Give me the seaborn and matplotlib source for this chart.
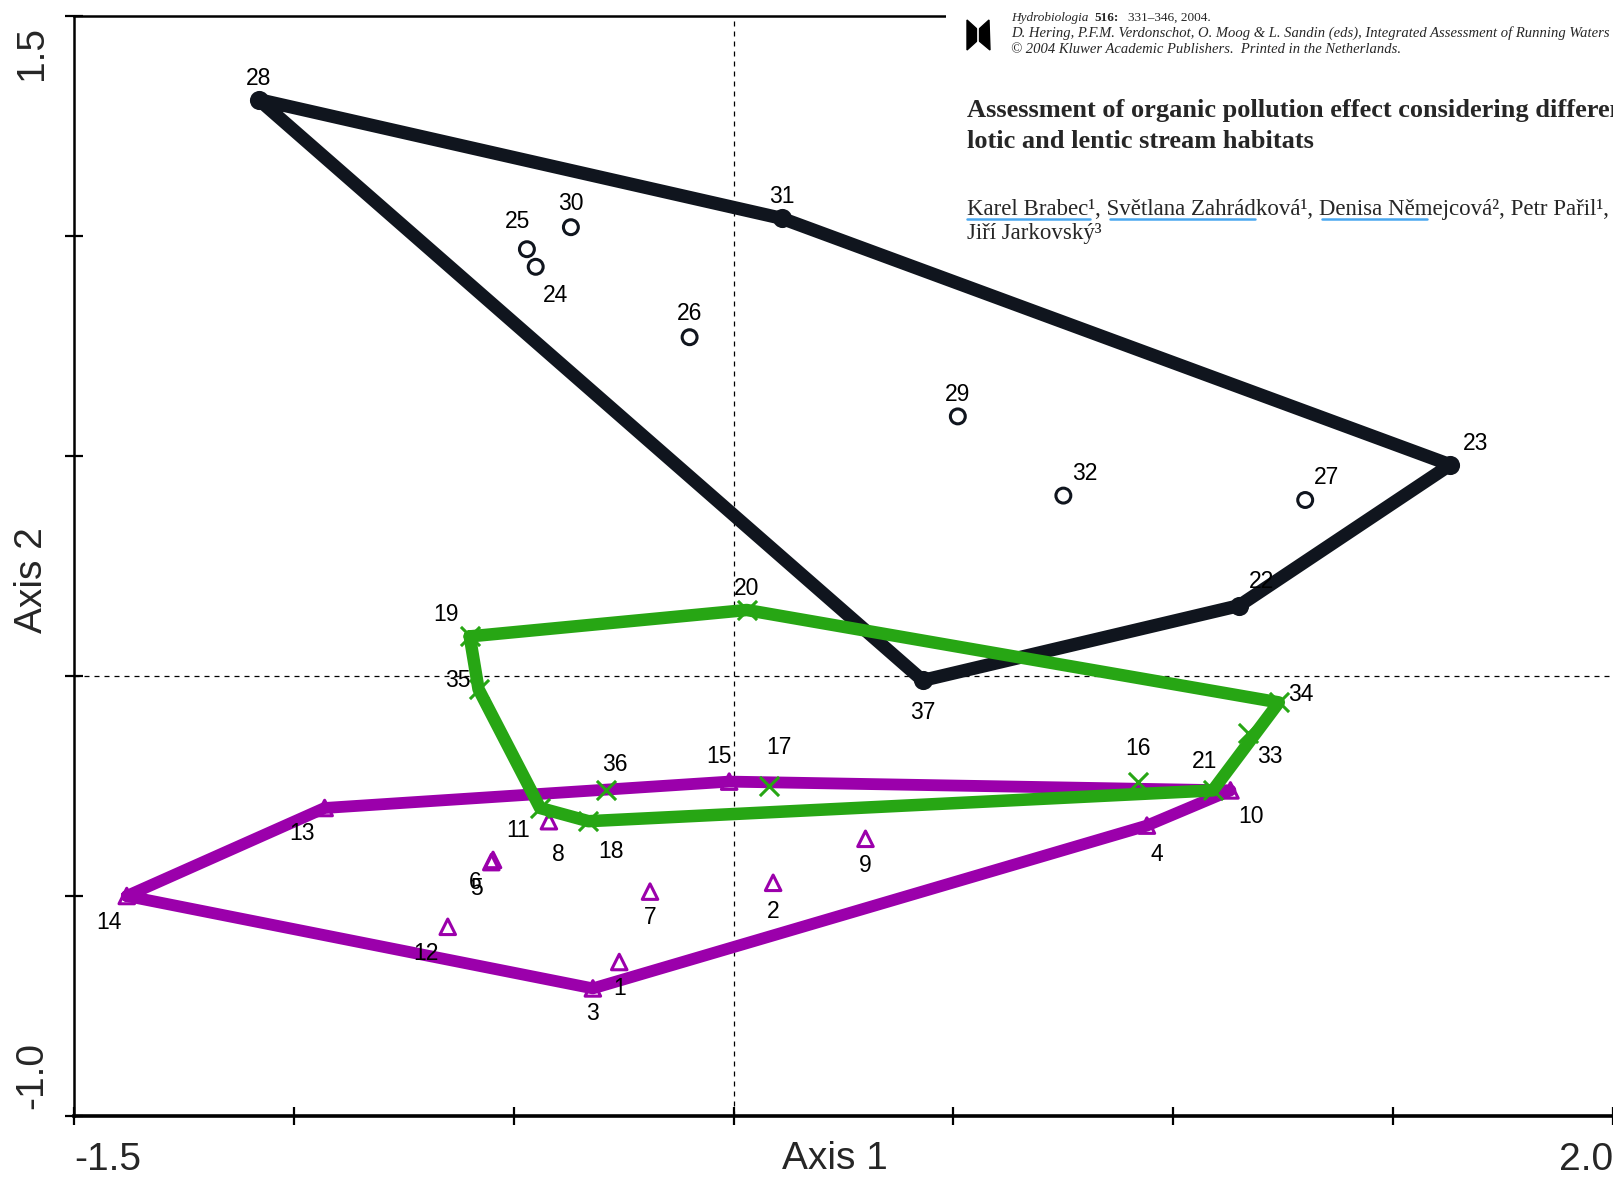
import matplotlib
matplotlib.use("Agg")
import matplotlib.pyplot as plt
import seaborn as sns
import pandas as pd
from matplotlib.lines import Line2D
from matplotlib.patches import Polygon

# --- data ---
black_ids = [28, 31, 23, 22, 37, 25, 30, 24, 26, 29, 32, 27]
black_x = [-1.08, 0.11, 1.63, 1.15, 0.43, -0.47, -0.37, -0.45, -0.10, 0.51, 0.75, 1.30]
black_y = [1.31, 1.04, 0.48, 0.16, -0.01, 0.97, 1.02, 0.93, 0.77, 0.59, 0.41, 0.40]
black_hull = [28, 31, 23, 22, 37]

green_ids = [19, 20, 34, 33, 21, 16, 17, 36, 18, 11, 35]
green_x = [-0.60, 0.03, 1.24, 1.17, 1.09, 0.92, 0.08, -0.29, -0.33, -0.44, -0.58]
green_y = [0.09, 0.15, -0.06, -0.13, -0.26, -0.24, -0.25, -0.26, -0.33, -0.30, -0.03]
green_hull = [19, 20, 34, 21, 18, 11, 35]

purple_ids = [14, 13, 15, 10, 4, 3, 8, 6, 5, 12, 1, 7, 2, 9]
purple_x = [-1.38, -0.93, -0.01, 1.13, 0.94, -0.32, -0.42, -0.547, -0.551, -0.65, -0.26, -0.19, 0.09, 0.30]
purple_y = [-0.50, -0.30, -0.24, -0.26, -0.34, -0.71, -0.33, -0.418, -0.423, -0.57, -0.65, -0.49, -0.47, -0.37]
purple_hull = [14, 13, 15, 10, 4, 3]

x_ticks = [-1.5, -1.0, -0.5, 0.0, 0.5, 1.0, 1.5, 2.0]
y_ticks = [-1.0, -0.5, 0.0, 0.5, 1.0, 1.5]
x_tick_vals = [-1.5, 2.0]
x_tick_text = ["-1.5", "2.0"]
y_tick_vals = [-1.0, 1.5]
y_tick_text = ["-1.0", "1.5"]

# label offsets (points) for each site number
black_off = [(0, 15.5), (0, 15.5), (18, 15.5), (16, 17), (0, -23), (-7, 20),
             (0, 17), (14, -21), (0, 17), (0, 16), (15.5, 16), (15.5, 16)]
green_off = [(-17, 15.5), (0, 15.5), (15.5, 6), (16, -17), (-6, 21), (0, 24),
             (7, 28), (6, 19), (16, -22), (-16, -16), (-15, 6)]
purple_off = [(-13, -19), (-16, -18.5), (-7, 18), (15, -19), (7, -21), (0, -18),
              (7, -24), (-12.5, -16), (-11, -19), (-16, -19), (0, -19), (0, -19),
              (0, -21), (0, -19)]

BLACK = "#10151e"
GREEN = "#27a614"
PURPLE = "#9b00ab"

sns.set_style("white")
plt.rcParams["font.family"] = ["Liberation Sans", "DejaVu Sans"]

W, H = 1613, 1178
fig = plt.figure(figsize=(W / 100, H / 100), dpi=100)
ax = fig.add_axes([74 / W, 62 / H, 1539 / W, 1100 / H])


def frame(ids, xs, ys, hull):
    df = pd.DataFrame({"site": ids, "x": xs, "y": ys})
    df["on_hull"] = df["site"].isin(hull)
    h = df.set_index("site").loc[hull + hull[:1]].reset_index()
    return df, h


bdf, bh = frame(black_ids, black_x, black_y, black_hull)
gdf, gh = frame(green_ids, green_x, green_y, green_hull)
pdf, ph = frame(purple_ids, purple_x, purple_y, purple_hull)

ax.axhline(0, color="black", lw=0.9, ls=(0, (4, 4)), zorder=1)
ax.axvline(0, color="black", lw=0.9, ls=(0, (4, 4)), zorder=1)

# black group
sns.lineplot(data=bh, x="x", y="y", sort=False, estimator=None, color=BLACK,
             linewidth=9.5, solid_joinstyle="round", solid_capstyle="round", zorder=2, ax=ax)
sns.scatterplot(data=bdf[bdf["on_hull"]], x="x", y="y", marker="o", s=190,
                color=BLACK, edgecolor=BLACK, linewidth=0, zorder=3, ax=ax)
sns.scatterplot(data=bdf[~bdf["on_hull"]], x="x", y="y", marker="o", s=115,
                facecolor="none", edgecolor=BLACK, linewidth=2.2, zorder=3, ax=ax)

# purple group
sns.lineplot(data=ph, x="x", y="y", sort=False, estimator=None, color=PURPLE,
             linewidth=8.5, solid_joinstyle="round", zorder=4, ax=ax)
sns.scatterplot(data=pdf, x="x", y="y", marker="^", s=125,
                facecolor="none", edgecolor=PURPLE, linewidth=2.2, zorder=5, ax=ax)

# green group
sns.scatterplot(data=gdf, x="x", y="y", marker="x", s=190,
                color=GREEN, linewidth=2.2, zorder=5, ax=ax)
sns.lineplot(data=gh, x="x", y="y", sort=False, estimator=None, color=GREEN,
             linewidth=9, solid_joinstyle="round", zorder=6, ax=ax)

for df, offs in [(bdf, black_off), (gdf, green_off), (pdf, purple_off)]:
    for (site, x, y), off in zip(df[["site", "x", "y"]].values, offs):
        ax.annotate(str(int(site)), (x, y), xytext=off, textcoords="offset points",
                    ha="center", va="center", fontsize=16.5, color="black", zorder=8)

ax.set_xlim(-1.5, 2.0)
ax.set_ylim(-1.0, 1.5)
ax.set_xticks(x_ticks)
ax.set_yticks(y_ticks)
ax.tick_params(direction="inout", length=13, width=1.6, color="black",
               bottom=True, left=True, top=False, right=False,
               labelbottom=False, labelleft=False)
for side, lw in [("left", 1.8), ("bottom", 2.6), ("top", 1.8)]:
    ax.spines[side].set_color("black")
    ax.spines[side].set_linewidth(lw)
ax.spines["right"].set_visible(False)

for v, t, ha in zip(x_tick_vals, x_tick_text, ["left", "right"]):
    ax.annotate(t, (v, 0), xycoords=("data", "axes fraction"), xytext=(0, -19),
                textcoords="offset points", ha=ha, va="top", fontsize=28)
for v, t, va, dy in zip(y_tick_vals, y_tick_text, ["bottom", "top"], [5, -7]):
    ax.annotate(t, (0, v), xycoords=("axes fraction", "data"), xytext=(-17, dy),
                textcoords="offset points", ha="right", va=va, rotation=90, fontsize=28)

ax.set_xlabel("Axis 1", fontsize=28)
ax.set_ylabel("Axis 2", fontsize=28)
ax.xaxis.label.set_va("center")
ax.xaxis.set_label_coords(0.4945, -0.039)
ax.yaxis.label.set_rotation_mode("default")
ax.yaxis.label.set_va("center")
ax.yaxis.label.set_ha("center")
ax.yaxis.set_label_coords(-0.0273, 0.487)

# --- pasted journal header in the top-right corner ---
hax = fig.add_axes([946 / W, 1 - 252 / H, 1 - 946 / W, 252 / H])
hax.set_facecolor("white")
hax.set_xticks([])
hax.set_yticks([])
for s in hax.spines.values():
    s.set_visible(False)


def px(x, y):
    return x / W, 1 - y / H


serif = ["Liberation Serif", "DejaVu Serif"]
fig.text(*px(1011, 21), "Hydrobiologia", family=serif, style="italic", fontsize=9.5)
fig.text(*px(1094, 21), "516:", family=serif, weight="bold", fontsize=9.5)
fig.text(*px(1128, 21), "331–346, 2004.", family=serif, fontsize=9.5)
fig.text(*px(1011, 37), "D. Hering, P.F.M. Verdonschot, O. Moog & L. Sandin (eds), "
         "Integrated Assessment of Running Waters",
         family=serif, style="italic", fontsize=10.5)
fig.text(*px(1011, 53), "© 2004 Kluwer Academic Publishers.  Printed in the Netherlands.",
         family=serif, style="italic", fontsize=10.5)
fig.text(*px(967, 117), "Assessment of organic pollution effect considering differences between",
         family=serif, weight="bold", fontsize=19)
fig.text(*px(967, 148), "lotic and lentic stream habitats",
         family=serif, weight="bold", fontsize=19)
fig.text(*px(967, 215), "Karel Brabec¹, Světlana Zahrádková¹, Denisa Němejcová², Petr Pařil¹,",
         family=serif, fontsize=16.5)
fig.text(*px(967, 239), "Jiří Jarkovský³", family=serif, fontsize=16.5)
for x0, x1 in [(967, 1090), (1110, 1255), (1322, 1427)]:
    fig.add_artist(Line2D([x0 / W, x1 / W], [1 - 219 / H] * 2, color="#4aa8f0",
                          lw=1.8, transform=fig.transFigure))

# small publisher logo
logo = [(967, 20), (978, 30), (989, 20), (990, 50), (978, 40), (967, 50)]
fig.add_artist(Polygon([px(a, b) for a, b in logo], closed=True, color="black",
                       transform=fig.transFigure))
fig.add_artist(Line2D([978 / W] * 2, [1 - 22 / H, 1 - 52 / H], color="white",
                      lw=1.2, transform=fig.transFigure))

fig.savefig("out.png", dpi=100)
